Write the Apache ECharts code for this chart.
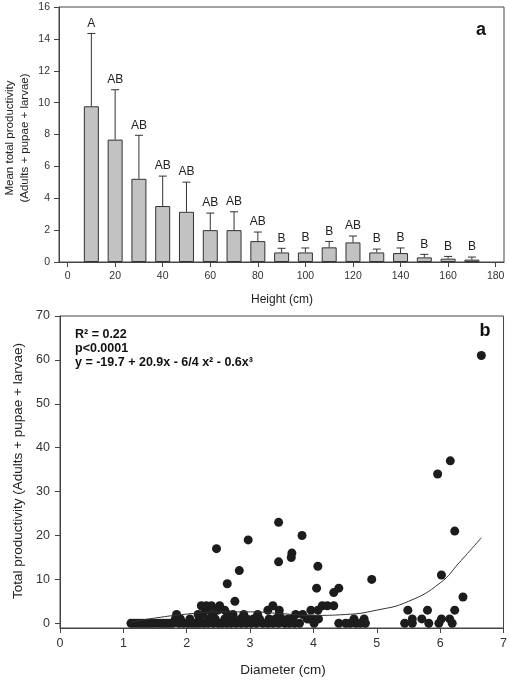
<!DOCTYPE html>
<html><head><meta charset="utf-8">
<script src="https://cdn.jsdelivr.net/npm/echarts@6/dist/echarts.min.js"></script>
<style>html,body{margin:0;padding:0;background:#fff}#c{width:510px;height:681px}</style>
</head><body><div id="c"></div>
<script>
// Panel a
const heights = [10,20,30,40,50,60,70,80,90,100,110,120,130,140,150,160,170];
const meanProd = [9.77,7.68,5.22,3.51,3.15,2.0,2.0,1.31,0.6,0.6,0.92,1.23,0.6,0.56,0.29,0.21,0.15];
const upperErr = [14.34,10.81,7.95,5.39,5.01,3.07,3.15,1.88,0.86,0.88,1.29,1.63,0.81,0.88,0.48,0.35,0.31];
const groups = ['A','AB','AB','AB','AB','AB','AB','AB','B','B','B','AB','B','B','B','B','B'];
const heightTicks = [0,20,40,60,80,100,120,140,160,180];

// Panel b
const diameter = [
 6.65,6.16,5.96,6.23,6.02,6.36,
 3.45,2.97,3.82,3.66,3.65,3.45,4.07,2.47,2.83,4.05,4.32,4.40,4.92,2.64,2.76,
 5.49,5.80,6.23,5.44,5.56,5.56,5.71,5.82,5.98,6.02,6.15,6.19,
 3.83,3.96,4.07,4.14,4.22,4.32,3.90,4.00,4.08,
 4.40,4.51,4.64,4.67,4.80,4.82,4.58,4.74,3.67,3.93,4.01,
 1.12,1.17,1.22,1.27,1.32,1.37,1.42,1.47,1.53,1.58,1.63,1.68,1.73,1.78,1.88,1.95,2.02,2.08,2.14,2.20,2.27,2.34,2.42,2.50,2.56,2.63,2.70,2.78,2.86,2.94,3.02,3.10,3.20,3.28,3.36,3.45,3.55,3.62,3.70,3.78,
 1.82,1.90,2.05,2.20,2.35,2.45,2.60,2.72,2.85,2.95,3.05,3.15,3.30,3.40,3.50,3.60,
 1.84,2.18,2.25,2.41,2.65,2.73,2.90,3.12,3.46,3.72,
 2.31,2.49,2.60,3.28,3.46,
 2.23,2.31,2.39,2.52,3.36
];
const productivity = [
 61,37,34,21,11,6,
 23,19,20,16,15,14,13,17,12,8,7,8,10,9,5,
 3,3,3,0,1,0,1,0,0,1,1,0,
 2,3,3,4,4,4,1,1,1,
 0,0,1,0,1,0,0,0,1,1,0,
 0,0,0,0,0,0,0,0,0,0,0,0,0,0,0,0,0,0,0,0,0,0,0,0,0,0,0,0,0,0,0,0,0,0,0,0,0,0,0,0,
 1,1,1,1,1,1,1,1,1,1,1,1,1,1,1,1,
 2,2,2,2,2,2,2,2,2,2,
 3,3,3,3,3,
 4,4,4,4,4
];
const fitX = [1.12,1.5,2.0,2.5,3.0,3.5,4.0,4.5,5.0,5.5,6.0,6.3,6.65];
const fitY = [0.3,1.2,2.1,2.6,2.6,2.2,1.8,2.0,3.0,5.0,9.2,13.8,19.5];
const diamTicks = [0,1,2,3,4,5,6,7];
const prodTicks = [0,10,20,30,40,50,60,70];

const FF = '"Liberation Sans", Arial, sans-serif';
const AX = '#444';
const chart = echarts.init(document.getElementById('c'), null, {renderer:'canvas'});

chart.setOption({
  animation:false,
  backgroundColor:'#fff',
  grid:[
    {left:59, right:6, top:7, bottom:419, show:true, borderColor:AX, borderWidth:1},
    {left:60, right:4, top:316, bottom:53, show:true, borderColor:AX, borderWidth:1}
  ],
  xAxis:[
    {gridIndex:0, type:'value', min:-3.6, max:183.5, splitLine:{show:false},
     axisLine:{onZero:false, lineStyle:{color:AX}},
     axisTick:{customValues:heightTicks, length:5, lineStyle:{color:AX}},
     axisLabel:{customValues:heightTicks, fontSize:10.5, color:'#333', margin:9, fontFamily:FF}},
    {gridIndex:1, type:'value', min:0, max:7, interval:1, splitLine:{show:false},
     axisLine:{onZero:false, lineStyle:{color:AX}},
     axisTick:{customValues:diamTicks, length:5, lineStyle:{color:AX}},
     axisLabel:{customValues:diamTicks, fontSize:12.5, color:'#333', margin:9, fontFamily:FF}}
  ],
  yAxis:[
    {gridIndex:0, type:'value', min:0, max:16, interval:2, splitLine:{show:false},
     axisLine:{show:true, onZero:false, lineStyle:{color:AX}},
     axisTick:{show:true, length:5, lineStyle:{color:AX}},
     axisLabel:{fontSize:10.5, color:'#333', margin:9, fontFamily:FF}},
    {gridIndex:1, type:'value', min:-1.07, max:70, splitLine:{show:false},
     axisLine:{show:true, onZero:false, lineStyle:{color:AX}},
     axisTick:{show:true, customValues:prodTicks, length:5, lineStyle:{color:AX}},
     axisLabel:{customValues:prodTicks, fontSize:12.5, color:'#333', margin:10, fontFamily:FF}}
  ],
  series:[
    {type:'bar', xAxisIndex:0, yAxisIndex:0, barWidth:15,
     data: heights.map((h,i)=>[h, meanProd[i]]),
     itemStyle:{color:'#c2c2c2', borderColor:'#333', borderWidth:1}},
    {type:'custom', xAxisIndex:0, yAxisIndex:0, z:3,
     data: heights.map((h,i)=>[h, meanProd[i], upperErr[i]]),
     renderItem:function(params, api){
       const x = api.value(0), m = api.value(1), u = api.value(2);
       const p0 = api.coord([x,m]), p1 = api.coord([x,u]);
       const cap = 4;
       return {type:'group', children:[
         {type:'line', shape:{x1:p0[0],y1:p0[1],x2:p1[0],y2:p1[1]}, style:{stroke:'#333',lineWidth:1}},
         {type:'line', shape:{x1:p1[0]-cap,y1:p1[1],x2:p1[0]+cap,y2:p1[1]}, style:{stroke:'#333',lineWidth:1}},
         {type:'text', x:p1[0], y:p1[1]-4, style:{text:groups[params.dataIndex], fill:'#222', fontSize:12, fontFamily:FF, align:'center', verticalAlign:'bottom'}}
       ]};
     }},
    {type:'scatter', xAxisIndex:1, yAxisIndex:1, symbolSize:9,
     data: diameter.map((d,i)=>[d, productivity[i]]),
     itemStyle:{color:'#1c1c1c', opacity:1}, z:2},
    {type:'line', xAxisIndex:1, yAxisIndex:1, smooth:true, showSymbol:false, z:3,
     data: fitX.map((d,i)=>[d, fitY[i]]),
     lineStyle:{color:'#333', width:1}}
  ],
  graphic:[
    {type:'text', x:481, y:30, style:{text:'a', fontSize:18, fontWeight:'bold', fontFamily:FF, fill:'#111', align:'center', verticalAlign:'middle'}},
    {type:'text', x:485, y:331, style:{text:'b', fontSize:18, fontWeight:'bold', fontFamily:FF, fill:'#111', align:'center', verticalAlign:'middle'}},
    {type:'text', x:10, y:138, rotation:Math.PI/2, style:{text:'Mean total productivity', fontSize:11.5, fontFamily:FF, fill:'#222', align:'center', verticalAlign:'middle'}},
    {type:'text', x:25, y:138, rotation:Math.PI/2, style:{text:'(Adults + pupae + larvae)', fontSize:11.5, fontFamily:FF, fill:'#222', align:'center', verticalAlign:'middle'}},
    {type:'text', x:282, y:300, style:{text:'Height (cm)', fontSize:12, fontFamily:FF, fill:'#222', align:'center', verticalAlign:'middle'}},
    {type:'text', x:18, y:471, rotation:Math.PI/2, style:{text:'Total productivity (Adults + pupae + larvae)', fontSize:13.5, fontFamily:FF, fill:'#222', align:'center', verticalAlign:'middle'}},
    {type:'text', x:283, y:670, style:{text:'Diameter (cm)', fontSize:13.5, fontFamily:FF, fill:'#222', align:'center', verticalAlign:'middle'}},
    {type:'text', x:75, y:335, style:{text:'R² = 0.22', fontSize:12.5, fontWeight:'bold', fontFamily:FF, fill:'#111', align:'left', verticalAlign:'middle'}},
    {type:'text', x:75, y:349, style:{text:'p<0.0001', fontSize:12.5, fontWeight:'bold', fontFamily:FF, fill:'#111', align:'left', verticalAlign:'middle'}},
    {type:'text', x:75, y:363, style:{text:'y = -19.7 + 20.9x - 6/4 x² - 0.6x³', fontSize:12.5, fontWeight:'bold', fontFamily:FF, fill:'#111', align:'left', verticalAlign:'middle'}}
  ]
});
</script>
</body></html>
